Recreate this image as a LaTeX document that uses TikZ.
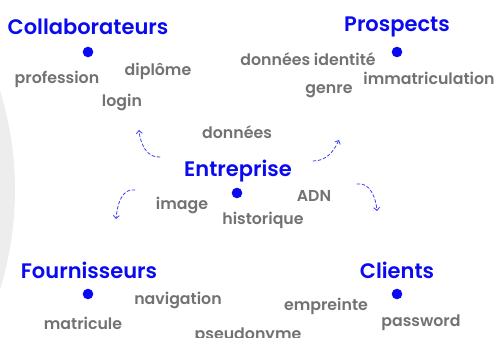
\documentclass[tikz,border=0pt]{standalone}
\usepackage{fontspec}
\setmainfont{Poppins}
\newfontfamily\titrefont{Poppins SemiBold}
\newfontfamily\motfont{Poppins SemiBold}
\usetikzlibrary{arrows.meta}
\definecolor{bleu}{HTML}{0A0AF0}
\definecolor{fleche}{HTML}{3C3CF5}
\definecolor{gris}{HTML}{727272}
\definecolor{fond}{HTML}{EDEDED}
\tikzset{
  titre/.style={text=bleu, font=\titrefont\fontsize{21}{22}\selectfont, inner sep=0pt},
  mot/.style={text=gris, font=\motfont\fontsize{15.8}{16}\selectfont, inner sep=0pt},
  point/.style={fill=bleu},
  lien/.style={fleche, line width=0.8pt, dash pattern=on 3pt off 2.2pt, -{Straight Barb[length=3pt,width=6pt]}}
}
\begin{document}
\begin{tikzpicture}[x=1pt, y=-1pt, line join=round, line cap=round]
			\useasboundingbox (0,0) rectangle (497,337);
			\fill[fond] (-320,190) circle (335); % arc gris a gauche
			% Collaborateurs
			\node[titre] (collab) at (88,27) {Collaborateurs};
			\fill[point] (88,52) circle (5.3);
			\node[mot] (profession) at (57,79) {profession};
			\node[mot] (diplome) at (158,71) {diplôme};
			\node[mot] (login) at (122,102) {login};
			% Prospects
			\node[titre] (prospects) at (397,27) {Prospects};
			\fill[point] (397,52) circle (5.3);
			\node[mot] (identite) at (308,59) {données identité};
			\node[mot] (immat) at (429,78) {immatriculation};
			\node[mot] (genre) at (329,91) {genre};
			% Entreprise
			\node[mot] (donnees) at (237,132) {données};
			\node[titre] (entreprise) at (238,171) {Entreprise};
			\fill[point] (237,193) circle (5.3);
			\node[mot] (image) at (182,205) {image};
			\node[mot] (historique) at (263,220) {historique};
			\node[mot] (adn) at (314,196) {ADN};
			% Fournisseurs
			\node[titre] (fourn) at (89,270) {Fournisseurs};
			\fill[point] (88,294) circle (5.3);
			\node[mot] (navigation) at (178,300) {navigation};
			\node[mot] (matricule) at (83,323) {matricule};
			\node[mot] (pseudo) at (248,336) {pseudonyme};
			% Clients
			\node[titre] (clients) at (397,270) {Clients};
			\fill[point] (397,294) circle (5.3);
			\node[mot] (empreinte) at (326,306) {empreinte};
			\node[mot] (password) at (421,323) {password};
			% fleches
			\coordinate (hg1) at (160,157); \coordinate (hg2) at (139,130);
			\coordinate (hd1) at (313,161); \coordinate (hd2) at (339,140);
			\coordinate (bg1) at (135,190); \coordinate (bg2) at (116,219);
			\coordinate (bd1) at (357,184); \coordinate (bd2) at (377,211);
			\draw[lien] (hg1) to[out=185,in=-85] (hg2);
			\draw[lien] (hd1) to[out=0,in=-115] (hd2);
			\draw[lien] (bg1) to[out=170,in=85] (bg2);
			\draw[lien] (bd1) to[out=10,in=95] (bd2);
	\end{tikzpicture}
\end{document}
